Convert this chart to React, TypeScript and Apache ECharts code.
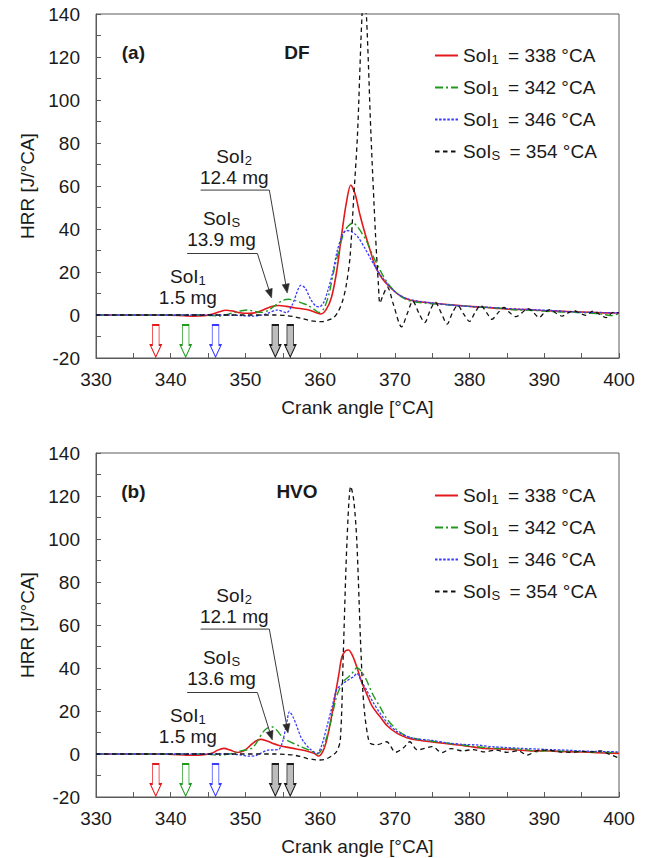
import React, { useEffect, useRef } from "react";
import * as echarts from "echarts";

// ---------------- data ----------------
const seriesNames = ["SoI1 = 338 °CA", "SoI1 = 342 °CA", "SoI1 = 346 °CA", "SoIS = 354 °CA"];

// (a) DF  – [crank angle, HRR]
const dfSoI338: [number, number][] = [
  [330, 0], [334, 0], [338, 0], [341, -0.2], [343, -0.5], [344.5, -0.3], [345.5, 0.3], [346.5, 1.5],
  [347.4, 2.2], [348.3, 1.8], [349.5, 0.9], [350.5, 0.8], [351.5, 1.2], [352.5, 2.6], [353.5, 4.0],
  [354.5, 4.4], [355.5, 4.0], [356.5, 3.4], [357.5, 2.9], [358.5, 2.3], [359.3, 1.3], [360.1, 0.5],
  [360.8, 2.5], [361.5, 8], [362.2, 20], [362.9, 38], [363.5, 52], [364.1, 60.5], [364.7, 56],
  [365.3, 47], [366.0, 38], [366.7, 30], [367.4, 22.5], [368.3, 17], [369.4, 12.8], [370.5, 9.5],
  [372, 7], [374, 5.9], [376, 5.2], [378, 4.6], [380, 4.0], [382, 3.6], [384, 3.0], [386, 2.6],
  [388, 2.5], [390, 2.0], [392, 1.8], [394, 1.5], [396, 1.3], [398, 1.0], [400, 0.9],
];
const dfSoI342: [number, number][] = [
  [330, 0], [338, 0], [342, 0], [344, 0.1], [345.5, -0.3], [346.5, -0.5], [347.5, 0.2], [348.5, 1.2],
  [349.5, 2.0], [350.3, 2.3], [351.2, 1.7], [352, 1.2], [353, 2.0], [354, 4.5], [355, 6.8], [355.8, 7.3],
  [356.8, 6.6], [357.5, 5.6], [358.3, 4.6], [359.2, 2.6], [359.8, 1.2], [360.5, 3], [361.2, 10],
  [361.8, 20], [362.5, 30], [363.2, 38.5], [363.8, 41.5], [364.4, 42.8], [365.0, 41], [365.6, 38],
  [366.2, 34.5], [367, 28], [368, 21], [369, 15], [370.3, 10], [371.5, 7.2], [372.5, 6.2], [374, 5.5],
  [376, 5.0], [378, 4.5], [380, 4.0], [382, 3.5], [384, 3.2], [386, 2.4], [388, 2.2], [390, 1.8],
  [392, 1.4], [394, 1.3], [396, 0.9], [398, 0.3], [399, -0.3], [400, 0.8],
];
const dfSoI346: [number, number][] = [
  [330, 0], [340, 0], [346, 0], [348, 0], [349.5, -0.3], [351, -0.5], [352, -0.2], [353, 0.8],
  [354.2, 2.3], [355.5, 1.1], [356.3, 5], [357, 11.5], [357.4, 13.8], [358, 12.5], [358.7, 7.5],
  [359.4, 4.2], [359.9, 3.8], [360.5, 6], [361, 11], [361.7, 20], [362.3, 30], [362.9, 36.5],
  [363.5, 39.3], [364.2, 38.8], [365, 36.5], [366, 31], [367.1, 24], [368.2, 18], [369.4, 13],
  [370.5, 9.5], [371.6, 7.6], [373, 6.5], [375, 5.6], [377, 4.8], [379, 4.2], [381, 3.8], [383, 3.5],
  [385, 3.0], [387, 2.7], [389, 2.4], [391, 2.1], [393, 1.6], [395, 1.3], [397, 1.2], [400, 1.0],
];
const dfSoI354: [number, number][] = [
  [330, 0], [345, 0], [354, 0], [355.5, -0.3], [356.5, -0.8], [357.5, -1.6], [358.5, -2.5],
  [359.5, -3.0], [360.3, -3.1], [361, -2.5], [361.8, -1.2], [362.4, 1.5], [363, 6.5], [363.5, 14],
  [364, 27], [364.5, 55], [365.0, 84], [365.6, 139], [365.9, 148], [366.2, 139], [366.8, 84],
  [367.4, 38], [367.8, 14], [368.0, 5.5], [368.4, 9], [369.0, 13], [369.8, 5], [370.9, -5.5],
  [371.7, 1], [372.4, 6.5], [373.2, 1], [374, -3.5], [374.7, 2], [375.4, 6], [376.2, 1], [377, -4.2],
  [377.7, 1], [378.4, 4.5], [379.2, 0.5], [380, -3], [380.7, 1], [381.5, 4.5], [382.3, 1], [383, -2],
  [383.8, 1], [384.6, 3.5], [385.4, 1], [386.2, -0.8], [387, 1], [387.8, 3], [388.6, 1], [389.3, -1.2],
  [390, 1], [390.8, 2.5], [391.6, 0.8], [392.4, -0.5], [393.2, 1], [394, 2], [394.8, 0.8],
  [395.6, -0.2], [396.5, 1.8], [397.3, 0.5], [398.3, -1.2], [399.2, 1.2], [400, 1],
];

// (b) HVO – [crank angle, HRR]
const hvoSoI338: [number, number][] = [
  [330, 0], [338, 0], [341, -0.3], [343, -0.6], [344.5, -0.3], [345.5, 0.3], [346.3, 1.8], [347.1, 2.6],
  [348, 1.8], [348.9, 0.7], [349.8, 1.5], [350.6, 3.8], [351.3, 5.8], [352, 6.8], [352.8, 6.2],
  [353.6, 5], [354.5, 4], [355.5, 3.2], [356.4, 2.6], [357.4, 2], [358.3, 1.3], [359.2, 0.3],
  [359.8, -0.9], [360.4, 1.5], [360.9, 6.8], [361.5, 17], [362, 27], [362.5, 37], [362.9, 45],
  [363.4, 48], [363.8, 48.4], [364.3, 46], [364.9, 40.6], [365.5, 34], [366.2, 28.2], [367, 22],
  [368, 17.4], [369, 13], [370.3, 9.6], [371.6, 7.6], [373, 6.5], [374.5, 5.8], [376.5, 5],
  [378.5, 4.2], [380, 3.5], [382, 2.6], [384, 2.4], [386, 2.0], [388.5, 1.4], [390, 1.5], [392, 1.2],
  [394, 1.0], [396, 0.8], [398, 0.5], [400, 0.3],
];
const hvoSoI342: [number, number][] = [
  [330, 0], [340, 0], [344, 0], [345.5, -0.3], [346.5, -0.6], [347.5, -0.2], [348.5, 0.6], [349.5, 1.6],
  [350.3, 2.0], [351, 3.0], [351.7, 6.5], [352.4, 10.4], [353, 12.2], [353.5, 12.7], [354.2, 11],
  [355.1, 7.3], [356.4, 5], [357.4, 3.5], [358.2, 2.3], [359, 1], [359.6, 0], [360.2, 2], [360.9, 8],
  [361.5, 16], [362.2, 26.7], [363.1, 33.6], [364, 36.5], [364.5, 38.5], [364.9, 40.1], [365.5, 38.5],
  [366.2, 34.4], [367, 28], [368, 22], [369, 16], [370.3, 11.2], [371.6, 8.2], [373, 7], [374.5, 6.2],
  [376, 5.5], [378, 4.6], [380, 3.8], [382, 3.0], [384, 2.6], [386, 2.4], [388, 1.8], [389, 1.0],
  [390, 1.5], [392, 1.3], [394, 1.2], [396, 1.0], [398, 0.8], [400, 0.6],
];
const hvoSoI346: [number, number][] = [
  [330, 0], [345, 0], [348, 0], [349.5, -0.5], [350.5, -1], [351.5, -0.6], [352.3, 0.8], [353, 1.8],
  [353.8, 1.9], [354.5, 2.2], [355, 6], [355.5, 14], [355.9, 19.7], [356.4, 17], [356.9, 12.7],
  [357.4, 8], [357.8, 5.7], [358.5, 2.8], [359.1, 1.1], [359.6, 0.3], [360.2, 4], [360.9, 12.7],
  [361.6, 22], [362.2, 29.8], [362.8, 32], [363.4, 33.6], [364, 35], [364.5, 36], [364.9, 37.5],
  [365.5, 34], [366.2, 29.8], [367.1, 24], [368, 19.1], [369.1, 14], [370.3, 10.4], [371.6, 8.2],
  [373, 7], [375, 6.3], [377, 5.2], [379, 4.5], [381, 4.2], [383, 3.4], [385, 3.0], [387, 2.6],
  [389, 2.3], [391, 2.0], [393, 1.8], [395, 1.4], [397, 1.2], [400, 1.0],
];
const hvoSoI354: [number, number][] = [
  [330, 0], [345, 0], [354, 0], [355.5, -0.2], [356.4, -0.5], [357.3, -1.1], [358.2, -2], [359.2, -2.6],
  [360, -2.8], [360.8, -2.3], [361.5, -1], [362.2, 1.1], [362.7, 6.5], [363.1, 46.8], [363.6, 99.5],
  [364.1, 124.5], [364.5, 118], [364.9, 99.5], [365.4, 53], [365.7, 30], [366.0, 17.4], [366.4, 8],
  [366.7, 5], [367.6, 4.3], [368.9, 5.7], [370.1, 0.8], [371.2, 3], [372, 5.7], [373, 1.9],
  [375, 3.4], [376.3, 0.6], [377.5, 2.5], [379, 1.5], [380.5, 2], [382, 1], [383.5, 1.8], [385, 0.8],
  [386.5, 1.5], [387.7, -0.5], [389, 1.5], [390.5, 1.8], [392, 1], [393.5, 0.8], [395, 1.2],
  [396.5, 1.0], [397.5, 1.5], [398.5, 0.2], [400, -1.9],
];

const panelSeries = [
  [dfSoI338, dfSoI342, dfSoI346, dfSoI354],
  [hvoSoI338, hvoSoI342, hvoSoI346, hvoSoI354],
];

// SoI markers (crank angle) under the curves
const markerX = [338, 342, 346, 354, 356];
const markerLevel = -12.1; // HRR level of the marker centre

// annotation texts
const panelLabels = ["(a)", "(b)"];
const fuelLabels = ["DF", "HVO"];
const noteSubs = ["2", "S", "1"];
const dfMasses = ["12.4 mg", "13.9 mg", "1.5 mg"];
const hvoMasses = ["12.1 mg", "13.6 mg", "1.5 mg"];
const panelMasses = [dfMasses, hvoMasses];

// annotation anchors in data units [crank angle, HRR]
const noteCentreX = [348.5, 346.8, 342.3];
const noteCentreY = [68.9, 40.0, 13.1];
const leaderStartX = [344.0, 342.2];
const leaderEndX = [353.2, 351.6];
const leaderY = [58.1, 28.6];
const dfTips = [[355.6, 10.2], [353.5, 7.9]];
const hvoTips = [[355.7, 9.8], [353.6, 6.5]];
const panelTips = [dfTips, hvoTips];
const titleAnchor = [[335, 122.3], [356.9, 122.3]];

// ---------------- styles ----------------
const FONT = '"Liberation Sans", Arial, Helvetica, sans-serif';
const TXT = "#1a1a1a";
const AXIS = "#5a5a5a";
const FS = 19;

const lineColors = ["#e3191c", "#1f9a1f", "#3b3bff", "#111111"];
const lineDash: any[] = ["solid", [8, 3, 2, 3], [2.5, 1.6], [4.5, 3.5]];
const lineWidths = [1.6, 1.4, 1.3, 1.3];
const markerStroke = ["#e3191c", "#1f9a1f", "#3b3bff", "#1a1a1a", "#1a1a1a"];
const markerFill = ["#ffffff", "#ffffff", "#ffffff", "#bdbdbd", "#bdbdbd"];

const gridBoxes = [
  { left: 96, right: 30, top: 14, height: 344 },
  { left: 96, right: 30, top: 453, height: 344 },
];
const legendTops = [46, 486];

const richLegend = {
  m: { fontSize: FS, fontFamily: FONT, color: TXT, lineHeight: 21, verticalAlign: "middle" },
  s: { fontSize: 13, fontFamily: FONT, color: TXT, lineHeight: 8, verticalAlign: "bottom", padding: [0, 4, 0, 0] },
};
const richGraphic = {
  m: { fontSize: FS, fontFamily: FONT, fill: TXT, color: TXT, lineHeight: 21, verticalAlign: "middle" },
  s: { fontSize: 13, fontFamily: FONT, fill: TXT, color: TXT, lineHeight: 8, verticalAlign: "bottom" },
};

const subName = (name: string) =>
  `{m|${name.slice(0, 3)}}{s|${name[3]}}{m|${name.slice(4)}}`;

const ARROW_PATH = "path://M2,0L8,0L8,20L10,20L5,32L0,20L2,20Z";

function buildOption() {
  const grid = gridBoxes.map((g) => ({
    ...g,
    show: true,
    borderColor: AXIS,
    borderWidth: 1,
    backgroundColor: "transparent",
    containLabel: false,
    outerBoundsMode: "none",
  }));
  const xAxis = gridBoxes.map((_, i) => ({
    type: "value",
    gridIndex: i,
    min: 330,
    max: 400,
    interval: 5,
    name: "Crank angle [°CA]",
    nameLocation: "middle",
    nameGap: 40,
    nameTextStyle: { fontSize: FS, fontFamily: FONT, color: TXT },
    axisLine: { show: true, onZero: false, lineStyle: { color: AXIS, width: 1 } },
    axisTick: { show: true, inside: true, length: 5, lineStyle: { color: AXIS, width: 1 } },
    axisLabel: {
      show: true,
      margin: 12,
      fontSize: FS,
      fontFamily: FONT,
      color: TXT,
      formatter: (v: number) => (v % 10 === 0 ? String(v) : ""),
    },
    splitLine: { show: false },
  }));
  const yAxis = gridBoxes.map((_, i) => ({
    type: "value",
    gridIndex: i,
    min: -20,
    max: 140,
    interval: 10,
    name: "HRR [J/°CA]",
    nameLocation: "middle",
    nameGap: 58,
    nameTextStyle: { fontSize: FS, fontFamily: FONT, color: TXT },
    axisLine: { show: true, onZero: false, lineStyle: { color: AXIS, width: 1 } },
    axisTick: { show: true, inside: true, length: 5, lineStyle: { color: AXIS, width: 1 } },
    axisLabel: {
      show: true,
      margin: 16,
      fontSize: FS,
      fontFamily: FONT,
      color: TXT,
      formatter: (v: number) => (v % 20 === 0 ? String(v) : ""),
    },
    splitLine: { show: false },
  }));

  const series: any[] = [];
  panelSeries.forEach((list, gi) => {
    list.forEach((data, k) => {
      series.push({
        type: "line",
        name: seriesNames[k],
        xAxisIndex: gi,
        yAxisIndex: gi,
        data,
        showSymbol: false,
        symbol: "none",
        smooth: 0.3,
        clip: true,
        lineStyle: { color: lineColors[k], width: lineWidths[k], type: lineDash[k] },
        itemStyle: { color: lineColors[k] },
        emphasis: { disabled: true },
        z: 2 + k,
      });
    });
    series.push({
      type: "scatter",
      name: "SoI markers " + gi,
      xAxisIndex: gi,
      yAxisIndex: gi,
      symbol: ARROW_PATH,
      symbolSize: [11, 32],
      silent: true,
      z: 10,
      data: markerX.map((x, k) => ({
        value: [x, markerLevel],
        itemStyle: { color: markerFill[k], borderColor: markerStroke[k], borderWidth: 1.2, opacity: 1 },
      })),
    });
  });

  const legend = legendTops.map((top) => ({
    orient: "vertical",
    left: 434,
    top,
    padding: 0,
    itemWidth: 23,
    itemHeight: 10,
    itemGap: 12,
    selectedMode: false,
    data: seriesNames,
    formatter: subName,
    itemStyle: { opacity: 0, borderWidth: 0 },
    textStyle: { fontSize: FS, fontFamily: FONT, color: TXT, rich: richLegend },
  }));

  return {
    animation: false,
    backgroundColor: "#ffffff",
    textStyle: { fontFamily: FONT },
    grid,
    xAxis,
    yAxis,
    legend,
    series,
  };
}

function buildGraphics(chart: any) {
  const els: any[] = [];
  const toPx = (gi: number, x: number, y: number) =>
    chart.convertToPixel({ gridIndex: gi }, [x, y]) as number[];

  for (let gi = 0; gi < 2; gi++) {
    // panel label and fuel
    const labels = [panelLabels[gi], fuelLabels[gi]];
    labels.forEach((t, k) => {
      const [x, y] = toPx(gi, titleAnchor[k][0], titleAnchor[k][1]);
      els.push({
        type: "text",
        x,
        y,
        z: 100,
        style: {
          text: t,
          fontSize: FS,
          fontWeight: "bold",
          fontFamily: FONT,
          fill: TXT,
          align: "center",
          verticalAlign: "middle",
        },
      });
    });
    // SoI notes (two lines: name with subscript, injected mass)
    noteSubs.forEach((sub, k) => {
      const [nx, ny] = toPx(gi, noteCentreX[k], noteCentreY[k]);
      els.push({
        type: "text",
        x: nx,
        y: ny,
        z: 100,
        style: {
          text: `{m|SoI}{s|${sub}}\n{m|${panelMasses[gi][k]}}`,
          rich: richGraphic,
          fontSize: FS,
          fontFamily: FONT,
          fill: TXT,
          align: "center",
          verticalAlign: "middle",
        },
      });
    });
    // leader lines with arrow heads
    leaderY.forEach((ly, k) => {
      const p1 = toPx(gi, leaderStartX[k], ly);
      const p2 = toPx(gi, leaderEndX[k], ly);
      const tip = toPx(gi, panelTips[gi][k][0], panelTips[gi][k][1]);
      const dx = tip[0] - p2[0];
      const dy = tip[1] - p2[1];
      const len = Math.sqrt(dx * dx + dy * dy);
      const ux = dx / len;
      const uy = dy / len;
      const L = 9;
      const W = 3.6;
      const base = [tip[0] - ux * L, tip[1] - uy * L];
      els.push({
        type: "polyline",
        z: 100,
        shape: { points: [p1, p2, base] },
        style: { stroke: "#3a3a3a", lineWidth: 1, fill: null },
      });
      els.push({
        type: "polygon",
        z: 100,
        shape: {
          points: [
            tip,
            [base[0] - uy * W, base[1] + ux * W],
            [base[0] + uy * W, base[1] - ux * W],
          ],
        },
        style: { fill: "#2a2a2a", stroke: "#2a2a2a", lineWidth: 0.5 },
      });
    });
  }
  return els;
}

export default function App() {
  const ref = useRef<HTMLDivElement>(null);
  useEffect(() => {
    const el = ref.current;
    if (!el) return;
    const chart = echarts.init(el, null, { renderer: "svg" });
    chart.setOption(buildOption() as any);
    chart.setOption({ graphic: buildGraphics(chart) } as any);
    return () => chart.dispose();
  }, []);
  return (
    <div
      ref={ref}
      style={{ position: "absolute", left: 0, top: 0, width: 649, height: 858, background: "#fff" }}
    />
  );
}
